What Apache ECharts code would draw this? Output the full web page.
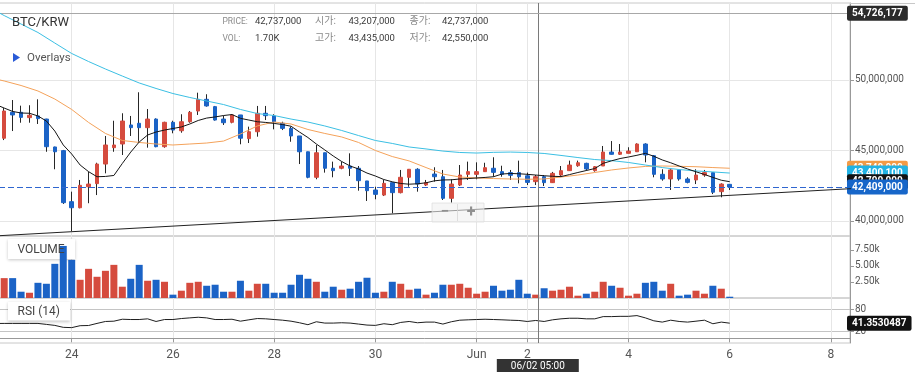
<!DOCTYPE html>
<html>
<head>
<meta charset="utf-8">
<title>BTC/KRW</title>
<script src="https://cdn.jsdelivr.net/npm/echarts@6.0.0/dist/echarts.min.js"></script>
<style>
html,body{margin:0;padding:0;background:#ffffff;}
#chart{width:915px;height:372px;}
</style>
</head>
<body>
<div id="chart"></div>
<script>
// ================= DATA =================
// 4-hour candles, first one at 2021-05-22 16:00 (UTC)
const firstCandleUTC = '2021-05-22T16:00:00Z';
const candleHours = 4;

const openPrices = [
  45.87e6, 47.71e6, 47.71e6, 47.33e6, 47.45e6, 47.23e6, 45.25e6, 44.99e6, 41.37e6, 40.94e6,
  42.43e6, 42.65e6, 44.04e6, 45.20e6, 45.46e6, 46.81e6, 46.93e6, 46.62e6, 47.23e6, 45.27e6,
  47.00e6, 46.40e6, 47.04e6, 47.80e6, 48.63e6, 48.11e6, 47.23e6, 47.00e6, 47.52e6, 45.84e6,
  46.33e6, 47.64e6, 47.45e6, 46.93e6, 46.57e6, 46.03e6, 44.91e6, 43.10e6, 44.84e6, 43.74e6,
  43.74e6, 43.90e6, 43.74e6, 42.84e6, 42.20e6, 41.84e6, 42.72e6, 42.01e6, 43.10e6, 43.67e6,
  42.55e6, 43.33e6, 43.14e6, 41.61e6, 42.55e6, 43.31e6, 43.31e6, 43.50e6, 43.74e6, 43.50e6,
  43.43e6, 43.43e6, 43.207e6, 42.79e6, 43.14e6, 42.72e6, 43.26e6, 43.57e6, 43.92e6, 44.09e6,
  43.57e6, 43.90e6, 44.89e6, 44.73e6, 44.80e6, 44.91e6, 45.46e6, 44.63e6, 43.31e6, 42.98e6,
  43.62e6, 42.98e6, 42.91e6, 43.26e6, 43.43e6, 42.08e6, 42.60e6
];
const highPrices = [
  48.01e6, 48.58e6, 48.18e6, 48.21e6, 48.63e6, 47.25e6, 45.27e6, 45.04e6, 42.08e6, 42.91e6,
  43.50e6, 44.13e6, 46.03e6, 47.11e6, 47.64e6, 47.45e6, 49.13e6, 47.94e6, 47.28e6, 47.04e6,
  47.11e6, 47.57e6, 47.80e6, 49.10e6, 48.99e6, 48.16e6, 47.47e6, 47.57e6, 47.52e6, 46.69e6,
  48.16e6, 48.16e6, 47.57e6, 47.04e6, 46.69e6, 46.03e6, 44.91e6, 45.39e6, 44.84e6, 44.21e6,
  44.21e6, 44.80e6, 43.90e6, 42.84e6, 42.43e6, 42.91e6, 42.72e6, 43.62e6, 43.67e6, 43.74e6,
  42.91e6, 43.81e6, 43.62e6, 42.96e6, 43.97e6, 44.21e6, 44.16e6, 44.13e6, 44.52e6, 43.92e6,
  43.62e6, 44.28e6, 43.435e6, 43.26e6, 43.26e6, 43.48e6, 43.90e6, 44.28e6, 44.28e6, 44.13e6,
  43.90e6, 45.32e6, 45.67e6, 45.46e6, 45.23e6, 45.51e6, 45.51e6, 44.68e6, 43.67e6, 43.67e6,
  43.62e6, 43.10e6, 43.67e6, 43.62e6, 43.43e6, 42.67e6, 42.60e6
];
const lowPrices = [
  45.74e6, 46.38e6, 46.97e6, 46.97e6, 46.88e6, 44.91e6, 43.67e6, 41.21e6, 39.29e6, 40.90e6,
  41.26e6, 41.84e6, 43.38e6, 44.91e6, 44.68e6, 46.03e6, 45.62e6, 45.20e6, 45.23e6, 45.20e6,
  46.22e6, 46.26e6, 46.97e6, 47.52e6, 48.11e6, 47.12e6, 46.81e6, 46.93e6, 45.44e6, 45.53e6,
  45.98e6, 47.16e6, 46.50e6, 46.45e6, 45.62e6, 44.04e6, 43.03e6, 42.96e6, 43.43e6, 43.10e6,
  43.67e6, 43.19e6, 42.15e6, 41.42e6, 41.54e6, 41.77e6, 40.55e6, 41.96e6, 42.43e6, 42.08e6,
  42.48e6, 42.79e6, 41.49e6, 41.30e6, 42.48e6, 42.91e6, 42.96e6, 43.50e6, 43.14e6, 43.14e6,
  42.91e6, 42.67e6, 42.55e6, 42.55e6, 42.48e6, 42.70e6, 43.19e6, 43.55e6, 43.85e6, 43.57e6,
  43.50e6, 43.90e6, 44.72e6, 44.68e6, 44.80e6, 44.91e6, 44.16e6, 43.10e6, 42.86e6, 42.20e6,
  42.86e6, 42.67e6, 42.62e6, 43.14e6, 41.91e6, 41.68e6, 42.20e6
];
const closePrices = [
  47.80e6, 47.52e6, 47.35e6, 47.50e6, 47.26e6, 45.27e6, 44.91e6, 41.30e6, 40.94e6, 42.53e6,
  42.62e6, 44.04e6, 45.39e6, 45.39e6, 47.09e6, 46.62e6, 46.62e6, 47.23e6, 45.27e6, 47.00e6,
  46.45e6, 47.04e6, 47.71e6, 48.63e6, 48.16e6, 47.16e6, 46.97e6, 47.52e6, 45.87e6, 46.33e6,
  47.64e6, 47.47e6, 47.04e6, 46.57e6, 46.03e6, 44.91e6, 43.10e6, 44.84e6, 43.74e6, 43.57e6,
  43.90e6, 43.74e6, 42.86e6, 42.15e6, 41.89e6, 42.67e6, 42.01e6, 43.10e6, 43.67e6, 42.62e6,
  42.72e6, 43.14e6, 41.61e6, 42.62e6, 43.26e6, 43.50e6, 43.50e6, 43.78e6, 43.45e6, 43.31e6,
  43.24e6, 43.14e6, 42.737e6, 43.14e6, 42.72e6, 43.38e6, 43.57e6, 43.97e6, 44.13e6, 43.69e6,
  43.85e6, 44.89e6, 44.73e6, 44.89e6, 44.96e6, 45.46e6, 44.68e6, 43.31e6, 42.98e6, 43.62e6,
  42.98e6, 42.74e6, 43.26e6, 43.43e6, 42.04e6, 42.62e6, 42.409e6
];
const volumes = [
  3100, 3100, 980, 820, 2370, 2220, 5330, 8120, 5950, 2840,
  4550, 3310, 4240, 5170, 1760, 3000, 5170, 2690, 2840, 2530,
  520, 1140, 2370, 2530, 1910, 2070, 980, 980, 2690, 1140,
  2220, 2220, 820, 820, 2070, 3620, 3000, 2530, 980, 1760,
  1290, 1450, 2530, 3160, 820, 980, 2530, 2220, 1290, 1450,
  520, 820, 2070, 2070, 2220, 1600, 670, 980, 1910, 1140,
  1290, 2840, 670, 520, 1520, 1140, 1290, 1760, 360, 670,
  980, 2530, 1910, 1600, 360, 670, 2370, 2530, 1140, 2220,
  360, 520, 1140, 670, 1910, 1450, 200
];

// lines that start one candle before the first visible candle (index -1)
const lineStartIndex = -1;
const maShort = [ // black
  48.26e6,
  48.01e6, 47.77e6, 47.66e6, 47.64e6, 47.45e6, 47.09e6, 46.38e6, 45.39e6, 44.75e6, 43.97e6,
  43.50e6, 43.14e6, 43.16e6, 43.23e6, 44.08e6, 44.89e6, 45.60e6, 46.10e6, 46.31e6, 46.45e6,
  46.56e6, 46.67e6, 46.88e6, 47.13e6, 47.30e6, 47.38e6, 47.48e6, 47.55e6, 47.28e6, 47.16e6,
  47.04e6, 46.99e6, 46.92e6, 46.84e6, 46.72e6, 46.31e6, 45.92e6, 45.46e6, 45.04e6, 44.61e6,
  44.22e6, 43.90e6, 43.69e6, 43.40e6, 43.19e6, 42.94e6, 42.78e6, 42.66e6, 42.61e6, 42.64e6,
  42.71e6, 42.85e6, 42.91e6, 42.92e6, 42.98e6, 43.01e6, 43.05e6, 43.09e6, 43.14e6, 43.33e6,
  43.37e6, 43.35e6, 43.31e6, 43.26e6, 43.21e6, 43.17e6, 43.15e6, 43.29e6, 43.44e6, 43.58e6,
  43.72e6, 44.09e6, 44.27e6, 44.43e6, 44.54e6, 44.66e6, 44.80e6, 44.59e6, 44.33e6, 44.13e6,
  43.90e6, 43.69e6, 43.49e6, 43.30e6, 43.09e6, 42.89e6, 42.79e6
];
const rsi14 = [
  40.5,
  40.7, 40.7, 40.7, 40.7, 40.7, 38.0, 35.3, 30.0, 29.2, 34.5,
  35.0, 40.7, 46.0, 46.8, 52.1, 51.3, 51.3, 53.2, 46.0, 51.3,
  51.3, 54.0, 55.8, 57.5, 55.8, 51.3, 51.3, 52.1, 46.8, 50.5,
  54.0, 53.2, 51.3, 49.5, 46.8, 42.5, 37.2, 45.2, 41.6, 41.6,
  42.5, 41.6, 38.9, 36.2, 35.3, 39.8, 37.2, 43.4, 46.0, 42.5,
  44.3, 44.3, 38.9, 45.2, 49.5, 50.5, 51.3, 52.1, 51.3, 50.5,
  49.5, 48.7, 46.0, 48.7, 46.0, 50.5, 53.2, 54.8, 54.8, 53.2,
  53.2, 59.3, 59.3, 60.0, 60.0, 62.0, 55.8, 47.8, 44.3, 49.5,
  46.0, 44.3, 46.8, 49.5, 39.8, 44.3, 41.3530487
];

// sparse moving averages (candle index of each reading)
const maSparseIdx = [-1, 0, 2, 4, 6, 8, 10, 12, 14, 16, 18, 20, 22, 24, 26, 28, 30, 32, 34, 36, 38, 40, 42,
  44, 46, 48, 50, 52, 54, 56, 58, 60, 62, 64, 66, 68, 70, 72, 74, 76, 78, 80, 82, 84, 86];
const maMid = [ // orange
  50.07e6, 49.93e6, 49.61e6, 49.22e6, 48.65e6, 47.91e6, 46.99e6, 46.21e6, 45.71e6, 45.57e6, 45.46e6, 45.39e6,
  45.46e6, 45.53e6, 45.67e6, 46.17e6, 46.74e6, 47.02e6, 46.88e6, 46.49e6, 46.21e6, 45.96e6, 45.57e6, 45.00e6,
  44.57e6, 44.26e6, 43.79e6, 43.33e6, 43.12e6, 43.05e6, 43.01e6, 42.98e6, 42.96e6, 42.98e6, 43.12e6, 43.26e6,
  43.44e6, 43.62e6, 43.76e6, 43.87e6, 43.90e6, 43.88e6, 43.85e6, 43.79e6, 43.74e6
];
const maLong = [ // cyan
  54.89e6, 54.57e6, 53.97e6, 53.37e6, 52.62e6, 51.88e6, 51.31e6, 50.78e6, 50.28e6, 49.79e6, 49.40e6, 49.04e6,
  48.76e6, 48.51e6, 48.26e6, 47.91e6, 47.62e6, 47.48e6, 47.23e6, 47.02e6, 46.74e6, 46.42e6, 46.06e6, 45.71e6,
  45.50e6, 45.25e6, 45.11e6, 44.96e6, 44.86e6, 44.82e6, 44.87e6, 44.89e6, 44.86e6, 44.79e6, 44.65e6, 44.50e6,
  44.36e6, 44.28e6, 44.15e6, 43.97e6, 43.79e6, 43.65e6, 43.55e6, 43.48e6, 43.40e6
];

const trendTimes = ['2021-05-22T14:00:00Z', '2021-06-09T16:00:00Z'];
const trendValues = [38.96e6, 42.546e6];

const lastPrice = 42409000;
const cursorPrice = 54726177;
const cursorTimeUTC = '2021-06-02T05:00:00Z';
const cursorLabel = '06/02 05:00';

const viewStartUTC = '2021-05-22T13:32:00Z';
const viewEndUTC = '2021-06-08T09:01:00Z';
const xTickDates = ['2021-05-24', '2021-05-26', '2021-05-28', '2021-05-30', '2021-06-01', '2021-06-02', '2021-06-04', '2021-06-06', '2021-06-08'];
const xTickLabels = ['24', '26', '28', '30', 'Jun', '2', '4', '6', '8'];
const priceTicks = [40000000, 45000000, 50000000];
const volumeTicks = [2500, 5000, 7500];
const rsiTicks = [20, 80];

const headerLabels = [['PRICE:', 'VOL:'], ['시가:', '고가:'], ['종가:', '저가:']];
const headerValues = [['42,737,000', '1.70K'], ['43,207,000', '43,435,000'], ['42,737,000', '42,550,000']];

// ================= CHART =================
const FONT = 'Roboto, "Noto Sans CJK KR", sans-serif';
const RED = '#d54b3e', BLUE = '#1b63c6', WICK = '#262626';
const C_BLACK = '#151515', C_ORANGE = '#f4a25a', C_CYAN = '#3bbfe3';
const H = 3600 * 1000;
const t0 = Date.parse(firstCandleUTC);
const tOf = i => t0 + i * candleHours * H;
const fmt = v => String(Math.round(v)).replace(/\B(?=(\d{3})+(?!\d))/g, ',');
const xTickVals = xTickDates.map(d => Date.parse(d + 'T00:00:00Z'));
const xMin = Date.parse(viewStartUTC), xMax = Date.parse(viewEndUTC);
const cursorT = Date.parse(cursorTimeUTC);

const n = openPrices.length;
const idx = Array.from({length: n}, (_, i) => i);
const wickData = idx.map(i => [tOf(i), openPrices[i], closePrices[i], lowPrices[i], highPrices[i]]);
const bodyData = idx.map(i => [tOf(i), openPrices[i], closePrices[i],
  Math.min(openPrices[i], closePrices[i]), Math.max(openPrices[i], closePrices[i])]);
const volData = idx.map(i => ({value: [tOf(i), volumes[i]],
  itemStyle: {color: closePrices[i] >= openPrices[i] ? RED : BLUE}}));
const shortData = maShort.map((v, k) => [tOf(k + lineStartIndex), v]);
const rsiData = rsi14.map((v, k) => [tOf(k + lineStartIndex), v]);
const midData = maMid.map((v, k) => [tOf(maSparseIdx[k]), v]);
const longData = maLong.map((v, k) => [tOf(maSparseIdx[k]), v]);
const trendData = trendTimes.map((t, k) => [Date.parse(t), trendValues[k]]);

const tagLabel = (bg, text) => ({
  show: true, position: 'end', distance: -3, formatter: text,
  backgroundColor: bg, color: '#fff', fontSize: 10, fontWeight: 'bold', fontFamily: FONT,
  padding: [2, 5, 2, 5], lineHeight: 11, borderRadius: 2
});
const HIDDEN_LINE = {color: 'rgba(0,0,0,0)', width: 1, type: 'solid'};

const xAxisFor = gi => ({
  type: 'value', gridIndex: gi, min: xMin, max: xMax,
  axisLine: {show: gi === 2, lineStyle: {color: '#999'}},
  axisTick: {show: gi === 2, customValues: xTickVals, length: 4, lineStyle: {color: '#999'}},
  axisLabel: {show: gi === 2, customValues: xTickVals, color: '#555', fontSize: 12, fontFamily: FONT, margin: 6,
    formatter: v => xTickLabels[xTickVals.indexOf(v)] || ''},
  splitLine: {show: true, lineStyle: {color: '#e6e6e6'}}
});

const yAxisFor = (gi, min, max, ticks, formatter, split, splitColor) => ({
  type: 'value', gridIndex: gi, position: 'right', min: min, max: max, scale: true,
  axisLine: {show: true, lineStyle: {color: '#999'}},
  axisTick: {show: true, customValues: ticks, length: 4, lineStyle: {color: '#999'}},
  axisLabel: {customValues: ticks, formatter: formatter, color: '#555', fontSize: 10, fontFamily: FONT, margin: 5},
  splitLine: {show: split, lineStyle: {color: splitColor}}
});

const crossV = {xAxis: cursorT, lineStyle: {color: '#7a7a7a', width: 1, type: 'solid'}, label: {show: false}};

const option = {
  animation: false,
  backgroundColor: '#fff',
  textStyle: {fontFamily: FONT},
  grid: [
    {left: -1, right: 65, top: 3, height: 233, show: true, borderColor: '#c8c8c8', borderWidth: 1, containLabel: false, outerBoundsMode: 'none'},
    {left: -1, right: 65, top: 236, height: 62, show: true, borderColor: '#c8c8c8', borderWidth: 1, containLabel: false, outerBoundsMode: 'none'},
    {left: -1, right: 65, top: 298, height: 45, show: true, borderColor: '#c8c8c8', borderWidth: 1, containLabel: false, outerBoundsMode: 'none'}
  ],
  xAxis: [xAxisFor(0), xAxisFor(1), xAxisFor(2)],
  yAxis: [
    yAxisFor(0, 38936000, 55461000, priceTicks, v => fmt(v), true, '#e6e6e6'),
    yAxisFor(1, 0, 9670, volumeTicks, v => (v / 1000).toFixed(2) + 'k', false, '#e6e6e6'),
    yAxisFor(2, -12.7, 110, rsiTicks, v => String(v), true, '#c4c4c4')
  ],
  series: [
    {
      name: 'wick', type: 'candlestick', xAxisIndex: 0, yAxisIndex: 0, z: 2,
      encode: {x: 0, y: [1, 2, 3, 4]},
      data: wickData, barWidth: 1,
      itemStyle: {color: WICK, color0: WICK, borderColor: WICK, borderColor0: WICK, borderWidth: 1},
      markLine: {
        silent: true, symbol: ['none', 'none'], animation: false,
        data: [
          crossV,
          {yAxis: cursorPrice, lineStyle: {color: '#a8a8a8', width: 1, type: 'solid'}, label: tagLabel('#2b2b2b', fmt(cursorPrice))}
        ]
      }
    },
    {
      name: 'body', type: 'candlestick', xAxisIndex: 0, yAxisIndex: 0, z: 3,
      encode: {x: 0, y: [1, 2, 3, 4]},
      data: bodyData, barWidth: 4,
      itemStyle: {color: RED, color0: BLUE, borderColor: RED, borderColor0: BLUE, borderWidth: 1}
    },
    {
      name: 'MA mid', type: 'line', xAxisIndex: 0, yAxisIndex: 0, z: 4, data: midData,
      symbol: 'none', lineStyle: {color: C_ORANGE, width: 1},
      markLine: {silent: true, symbol: ['none', 'none'], animation: false,
        data: [{yAxis: maMid[maMid.length - 1], lineStyle: HIDDEN_LINE, label: tagLabel('#f39a45', fmt(maMid[maMid.length - 1]))}]}
    },
    {
      name: 'MA long', type: 'line', xAxisIndex: 0, yAxisIndex: 0, z: 5, data: longData,
      symbol: 'none', lineStyle: {color: C_CYAN, width: 1},
      markLine: {silent: true, symbol: ['none', 'none'], animation: false,
        data: [{yAxis: maLong[maLong.length - 1], lineStyle: HIDDEN_LINE, label: tagLabel('#22b2e4', fmt(maLong[maLong.length - 1] + 100))}]}
    },
    {
      name: 'MA short', type: 'line', xAxisIndex: 0, yAxisIndex: 0, z: 6, data: shortData,
      symbol: 'none', lineStyle: {color: C_BLACK, width: 1},
      markLine: {silent: true, symbol: ['none', 'none'], animation: false,
        data: [{yAxis: maShort[maShort.length - 1], lineStyle: HIDDEN_LINE, label: tagLabel('#111', fmt(maShort[maShort.length - 1]))}]}
    },
    {
      name: 'trend', type: 'line', xAxisIndex: 0, yAxisIndex: 0, z: 7, data: trendData, clip: false,
      symbol: 'none', lineStyle: {color: '#222', width: 1},
      markLine: {silent: true, symbol: ['none', 'none'], animation: false,
        data: [{yAxis: lastPrice, lineStyle: {color: '#2f66d0', width: 1.2, type: [6, 3]}, label: tagLabel('#1766c9', fmt(lastPrice))}]}
    },
    {
      name: 'volume', type: 'bar', xAxisIndex: 1, yAxisIndex: 1, z: 3, data: volData, barWidth: 7,
      markLine: {silent: true, symbol: ['none', 'none'], animation: false, data: [crossV]}
    },
    {
      name: 'rsi', type: 'line', xAxisIndex: 2, yAxisIndex: 2, z: 3, data: rsiData,
      symbol: 'none', lineStyle: {color: '#1e1e1e', width: 1},
      markLine: {silent: true, symbol: ['none', 'none'], animation: false,
        data: [
          {xAxis: cursorT, lineStyle: {color: '#7a7a7a', width: 1, type: 'solid'},
            label: {show: true, position: 'start', distance: 16, formatter: cursorLabel,
              backgroundColor: '#333', color: '#fff', fontSize: 10, fontFamily: FONT,
              padding: [1, 14, 5, 14], lineHeight: 12}},
          {yAxis: rsi14[rsi14.length - 1], lineStyle: HIDDEN_LINE,
            label: tagLabel('#111', rsi14[rsi14.length - 1].toFixed(7))}
        ]}
    }
  ],
  graphic: [
    {type: 'line', z: 1, silent: true, shape: {x1: 850, y1: 3.5, x2: 915, y2: 3.5}, style: {stroke: '#c8c8c8', lineWidth: 1}},
    {type: 'text', z: 100, x: 12, y: 23, style: {text: 'BTC/KRW', fill: '#333', font: '13px ' + FONT, verticalAlign: 'middle'}},
    {type: 'polygon', z: 100, shape: {points: [[13, 53], [20, 57.5], [13, 62]]}, style: {fill: '#2a5bd7'}},
    {type: 'text', z: 100, x: 27, y: 58, style: {text: 'Overlays', fill: '#555', font: '11.5px ' + FONT, verticalAlign: 'middle'}},
    ...[0, 1, 2].flatMap(c => [0, 1].flatMap(r => [
      {type: 'text', z: 100, x: [222.5, 315, 409.5][c], y: [21.5, 38.5][r],
        style: {text: headerLabels[c][r], fill: '#8a8a8a', font: (c === 0 ? '8.5px ' : '10px ') + FONT, verticalAlign: 'middle'}},
      {type: 'text', z: 100, x: [255, 348.5, 442][c], y: [21.5, 38.5][r],
        style: {text: headerValues[c][r], fill: '#3a3a3a', font: '9.5px ' + FONT, verticalAlign: 'middle'}}
    ])),
    {type: 'rect', z: 1, shape: {x: 8, y: 239, width: 67, height: 20},
      style: {fill: '#fff', shadowBlur: 3, shadowColor: 'rgba(0,0,0,0.22)', shadowOffsetX: 0, shadowOffsetY: 1}},
    {type: 'text', z: 100, x: 17.5, y: 249.5, style: {text: 'VOLUME', fill: '#444', font: '12px ' + FONT, verticalAlign: 'middle'}},
    {type: 'rect', z: 1, shape: {x: 8, y: 302, width: 62, height: 18.5},
      style: {fill: '#fff', shadowBlur: 3, shadowColor: 'rgba(0,0,0,0.22)', shadowOffsetX: 0, shadowOffsetY: 1}},
    {type: 'text', z: 100, x: 17.5, y: 311.5, style: {text: 'RSI (14)', fill: '#444', font: '12px ' + FONT, verticalAlign: 'middle'}},
    {type: 'rect', z: 100, shape: {x: 432, y: 203, width: 52, height: 19},
      style: {fill: 'rgba(240,240,240,0.6)', stroke: 'rgba(220,220,220,0.7)', lineWidth: 1}},
    {type: 'line', z: 100, shape: {x1: 457.5, y1: 204, x2: 457.5, y2: 221}, style: {stroke: 'rgba(215,215,215,0.8)', lineWidth: 1}},
    {type: 'text', z: 101, x: 445, y: 212.5, style: {text: '−', fill: '#909090', font: 'bold 15px ' + FONT, align: 'center', verticalAlign: 'middle'}},
    {type: 'text', z: 101, x: 471, y: 212.5, style: {text: '+', fill: '#909090', font: 'bold 16px ' + FONT, align: 'center', verticalAlign: 'middle'}}
  ]
};

const chart = echarts.init(document.getElementById('chart'), null, {renderer: 'canvas'});
chart.setOption(option);
</script>
</body>
</html>
